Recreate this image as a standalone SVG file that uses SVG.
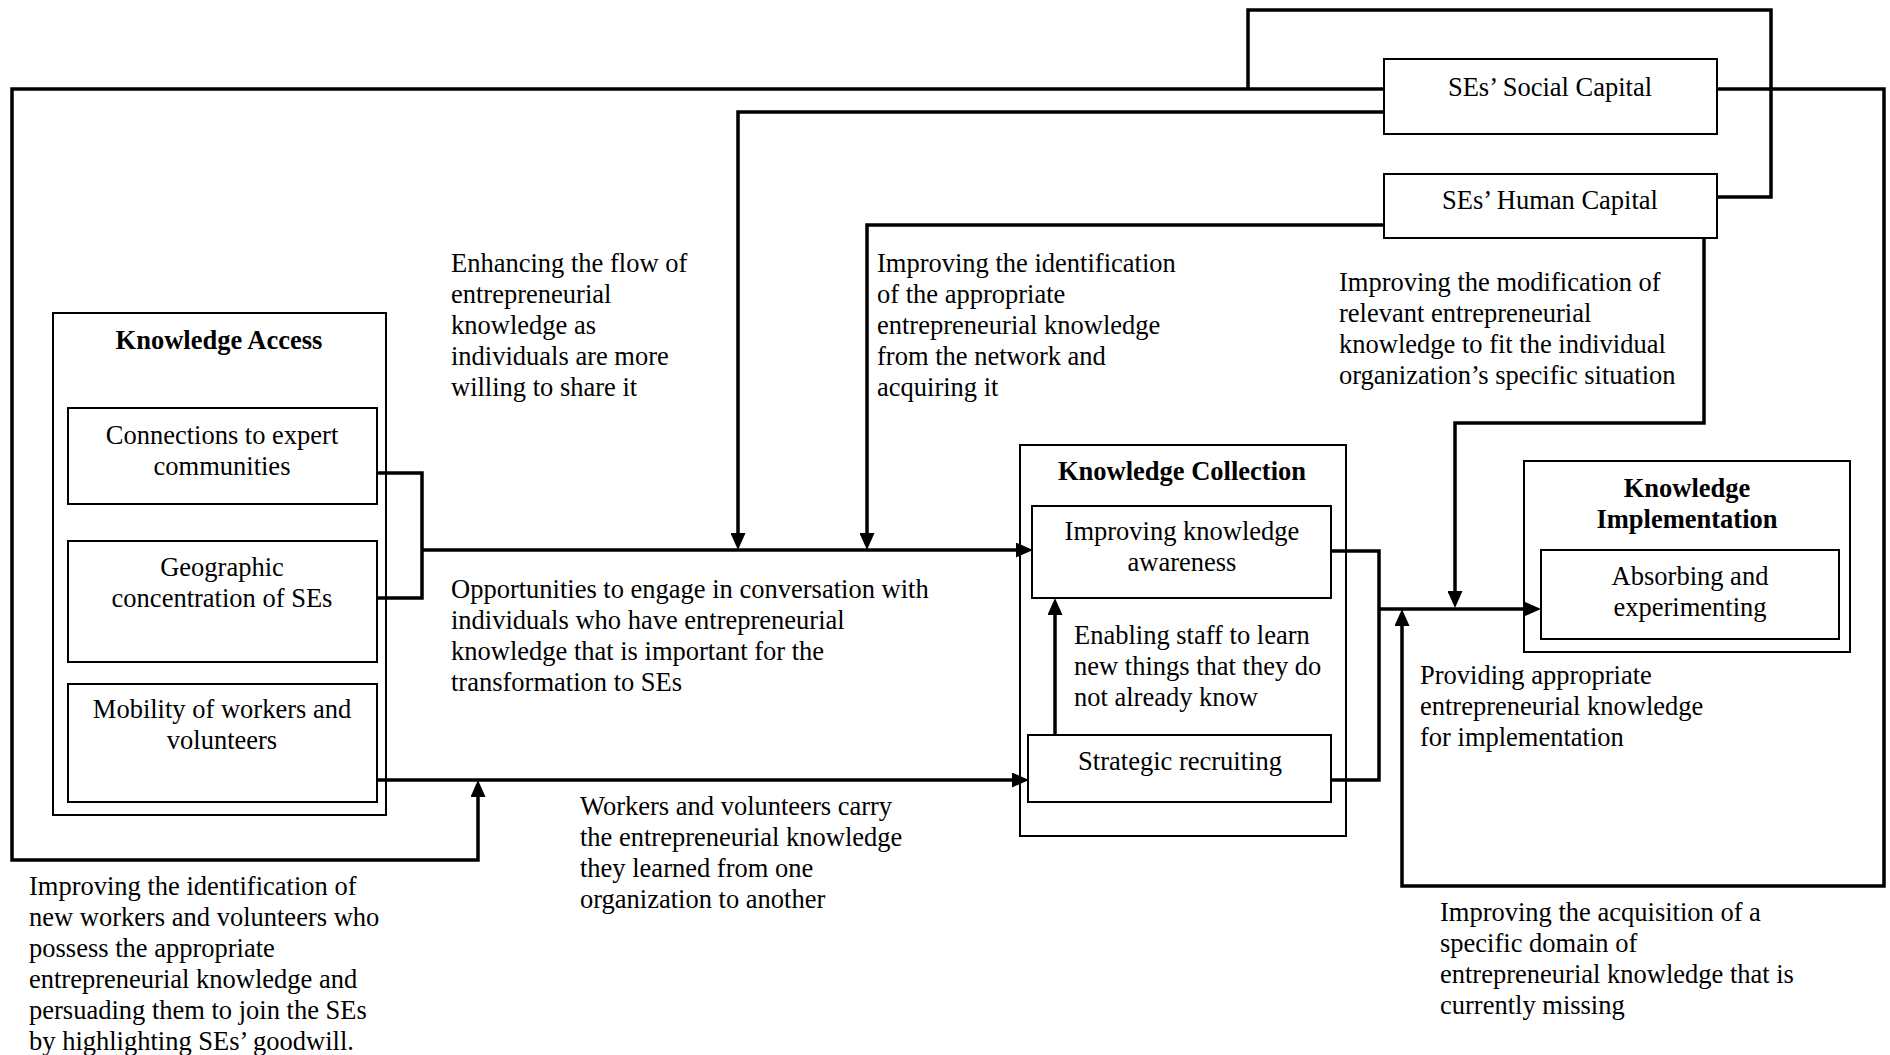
<svg xmlns="http://www.w3.org/2000/svg" width="1890" height="1055" viewBox="0 0 1890 1055">
<style>
text{font-family:"Liberation Serif","Times New Roman",serif;font-size:26.5px;fill:#000}
.b{font-weight:bold}
.c{text-anchor:middle}
.box{fill:none;stroke:#000;stroke-width:2}
.con{fill:none;stroke:#000;stroke-width:3.5;stroke-linejoin:miter}
.arr{marker-end:url(#ah)}
</style>
<defs>
<marker id="ah" markerUnits="userSpaceOnUse" markerWidth="17" markerHeight="15" refX="6" refY="7.5" orient="auto">
<path d="M0,0 L17,7.5 L0,15 z" fill="#000"/>
</marker>
</defs>
<rect width="1890" height="1055" fill="#fff"/>
<g id="connectors">
<polyline class="con arr" points="1384,89 12,89 12,860 478,860 478,791"/>
<polyline class="con" points="1248,89 1248,10 1771,10 1771,197 1717,197"/>
<polyline class="con arr" points="1384,112 738,112 738,539"/>
<polyline class="con arr" points="1384,225 867,225 867,539"/>
<polyline class="con arr" points="1717,89 1884,89 1884,886 1402,886 1402,620"/>
<polyline class="con arr" points="1704,238 1704,423 1455,423 1455,597"/>
<polyline class="con" points="377,473 422,473 422,598 377,598"/>
<polyline class="con arr" points="422,550 1022,550"/>
<polyline class="con arr" points="377,780 1018,780"/>
<polyline class="con" points="1331,551 1379,551 1379,780 1331,780"/>
<polyline class="con arr" points="1379,609 1530,609"/>
<polyline class="con arr" points="1055,735 1055,609"/>
</g>
<g id="social-capital">
<rect class="box" x="1384" y="59" width="333" height="75"/>
<text class="c" x="1550" y="96">SEs’ Social Capital</text>
</g>
<g id="human-capital">
<rect class="box" x="1384" y="174" width="333" height="64"/>
<text class="c" x="1550" y="209">SEs’ Human Capital</text>
</g>
<g id="knowledge-access">
<rect class="box" x="53" y="313" width="333" height="502"/>
<text class="c b" x="219" y="349">Knowledge Access</text>
</g>
<g id="connections">
<rect class="box" x="68" y="408" width="309" height="96"/>
<text class="c" x="222" y="444">Connections to expert</text>
<text class="c" x="222" y="475">communities</text>
</g>
<g id="geographic">
<rect class="box" x="68" y="541" width="309" height="121"/>
<text class="c" x="222" y="576">Geographic</text>
<text class="c" x="222" y="607">concentration of SEs</text>
</g>
<g id="mobility">
<rect class="box" x="68" y="684" width="309" height="118"/>
<text class="c" x="222" y="718">Mobility of workers and</text>
<text class="c" x="222" y="749">volunteers</text>
</g>
<g id="knowledge-collection">
<rect class="box" x="1020" y="445" width="326" height="391"/>
<text class="c b" x="1182" y="480">Knowledge Collection</text>
</g>
<g id="awareness">
<rect class="box" x="1032" y="506" width="299" height="92"/>
<text class="c" x="1182" y="540">Improving knowledge</text>
<text class="c" x="1182" y="571">awareness</text>
</g>
<g id="recruiting">
<rect class="box" x="1028" y="735" width="303" height="67"/>
<text class="c" x="1180" y="770">Strategic recruiting</text>
</g>
<g id="knowledge-implementation">
<rect class="box" x="1524" y="461" width="326" height="191"/>
<text class="c b" x="1687" y="497">Knowledge</text>
<text class="c b" x="1687" y="528">Implementation</text>
</g>
<g id="absorbing">
<rect class="box" x="1541" y="550" width="298" height="89"/>
<text class="c" x="1690" y="585">Absorbing and</text>
<text class="c" x="1690" y="616">experimenting</text>
</g>
<g id="labels">
<text x="451" y="272">Enhancing the flow of</text>
<text x="451" y="303">entrepreneurial</text>
<text x="451" y="334">knowledge as</text>
<text x="451" y="365">individuals are more</text>
<text x="451" y="396">willing to share it</text>
<text x="877" y="272">Improving the identification</text>
<text x="877" y="303">of the appropriate</text>
<text x="877" y="334">entrepreneurial knowledge</text>
<text x="877" y="365">from the network and</text>
<text x="877" y="396">acquiring it</text>
<text x="1339" y="291">Improving the modification of</text>
<text x="1339" y="322">relevant entrepreneurial</text>
<text x="1339" y="353">knowledge to fit the individual</text>
<text x="1339" y="384">organization’s specific situation</text>
<text x="451" y="598">Opportunities to engage in conversation with</text>
<text x="451" y="629">individuals who have entrepreneurial</text>
<text x="451" y="660">knowledge that is important for the</text>
<text x="451" y="691">transformation to SEs</text>
<text x="1074" y="644">Enabling staff to learn</text>
<text x="1074" y="675">new things that they do</text>
<text x="1074" y="706">not already know</text>
<text x="1420" y="684">Providing appropriate</text>
<text x="1420" y="715">entrepreneurial knowledge</text>
<text x="1420" y="746">for implementation</text>
<text x="580" y="815">Workers and volunteers carry</text>
<text x="580" y="846">the entrepreneurial knowledge</text>
<text x="580" y="877">they learned from one</text>
<text x="580" y="908">organization to another</text>
<text x="29" y="895">Improving the identification of</text>
<text x="29" y="926">new workers and volunteers who</text>
<text x="29" y="957">possess the appropriate</text>
<text x="29" y="988">entrepreneurial knowledge and</text>
<text x="29" y="1019">persuading them to join the SEs</text>
<text x="29" y="1050">by highlighting SEs’ goodwill.</text>
<text x="1440" y="921">Improving the acquisition of a</text>
<text x="1440" y="952">specific domain of</text>
<text x="1440" y="983">entrepreneurial knowledge that is</text>
<text x="1440" y="1014">currently missing</text>
</g>
</svg>
